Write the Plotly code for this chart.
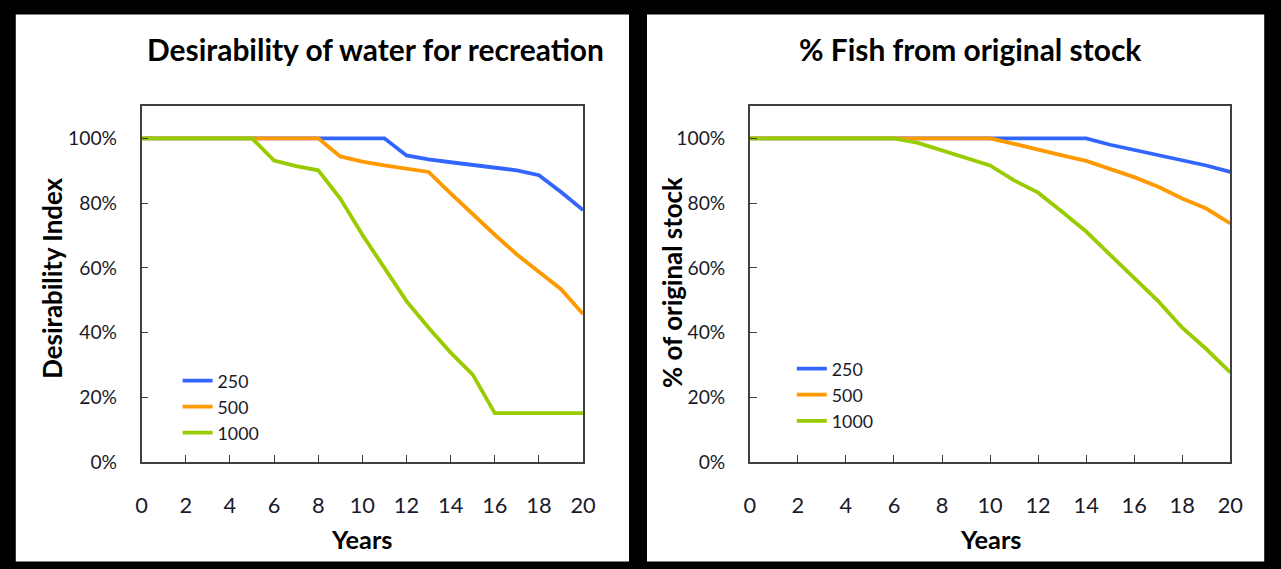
import plotly.graph_objects as go

years = list(range(0, 21))

# Desirability of water for recreation (%)
des_250 = [100, 100, 100, 100, 100, 100, 100, 100, 100, 100, 100, 100, 94.7, 93.5, 92.6, 91.8, 91.1, 90.1, 88.6, 83.4, 77.8]
des_500 = [100, 100, 100, 100, 100, 100, 100, 100, 100, 94.4, 92.8, 91.6, 90.6, 89.6, 83.0, 76.4, 70.2, 64.1, 58.9, 53.4, 45.7]
des_1000 = [100, 100, 100, 100, 100, 100, 93.1, 91.4, 90.1, 81.4, 70.2, 59.9, 49.7, 41.5, 33.8, 27.0, 15.1, 15.1, 15.1, 15.1, 15.1]

# % Fish from original stock
fish_250 = [100, 100, 100, 100, 100, 100, 100, 100, 100, 100, 100, 100, 100, 100, 100, 98.0, 96.4, 94.9, 93.4, 91.6, 89.6]
fish_500 = [100, 100, 100, 100, 100, 100, 100, 100, 100, 100, 100, 98.3, 96.4, 94.7, 93.0, 90.6, 88.0, 85.0, 81.4, 78.3, 73.7]
fish_1000 = [100, 100, 100, 100, 100, 100, 100, 98.6, 96.2, 93.9, 91.6, 87.0, 83.2, 77.3, 71.2, 64.0, 56.9, 49.7, 41.5, 34.9, 27.7]

series_names = ["250", "500", "1000"]
colors = ["#3366FF", "#FF9900", "#99CC00"]

FONT = "Lato"
TXT = "#1a1a2a"

fig = go.Figure()

for name, ys, c in zip(series_names, [des_250, des_500, des_1000], colors):
    fig.add_trace(go.Scatter(x=years, y=ys, mode="lines", name=name,
                             line=dict(color=c, width=3.8), xaxis="x", yaxis="y",
                             legend="legend"))
for name, ys, c in zip(series_names, [fish_250, fish_500, fish_1000], colors):
    fig.add_trace(go.Scatter(x=years, y=ys, mode="lines", name=name,
                             line=dict(color=c, width=3.8), xaxis="x2", yaxis="y2",
                             legend="legend2"))

W, H = 1281, 569
# target picture pixel -> paper fraction (with small calibration of the capture)
SX, OX = 0.9864, 5.2
SY, OY = 0.986, -2.5
def px(x):
    return ((x - OX) / SX) / W
def py(y):
    return (H - (y - OY) / SY) / H
K = 1 / 0.986

axis_common = dict(showgrid=False, zeroline=False, showline=True, linecolor="#404040",
                   linewidth=1.5, mirror=True, ticks="inside", ticklen=7,
                   tickcolor="#404040", tickwidth=1.2, fixedrange=True)

xcommon = dict(axis_common, range=[0, 20], tickmode="array", tickvals=list(range(0, 21, 2)),
               tickfont=dict(family=FONT, size=21.5 * K, color=TXT), ticklabelstandoff=23)
ycommon = dict(axis_common, range=[0, 110], tickmode="array", tickvals=[0, 20, 40, 60, 80, 100],
               ticktext=["0%", "20%", "40%", "60%", "80%", "100%"],
               tickfont=dict(family=FONT, size=19 * K, color=TXT), ticklabelstandoff=19)

legend_common = dict(xanchor="left", yanchor="top", bgcolor="rgba(0,0,0,0)",
                     font=dict(family=FONT, size=17.5 * K, color=TXT), tracegroupgap=0,
                     itemwidth=30)

fig.update_layout(
    width=W, height=H,
    margin=dict(l=0, r=0, t=0, b=0),
    paper_bgcolor="black",
    plot_bgcolor="white",
    xaxis=dict(xcommon, domain=[px(141), px(583)], anchor="y"),
    yaxis=dict(ycommon, domain=[py(462), py(104)], anchor="x"),
    xaxis2=dict(xcommon, domain=[px(750), px(1231)], anchor="y2"),
    yaxis2=dict(ycommon, domain=[py(462), py(104)], anchor="x2"),
    legend=dict(legend_common, x=px(177), y=py(362)),
    legend2=dict(legend_common, x=px(792), y=py(350)),
    shapes=[
        dict(type="rect", xref="paper", yref="paper", x0=px(15), x1=px(629), y0=py(562), y1=py(12),
             fillcolor="white", line=dict(width=0), layer="below"),
        dict(type="rect", xref="paper", yref="paper", x0=px(647), x1=px(1265), y0=py(562), y1=py(12),
             fillcolor="white", line=dict(width=0), layer="below"),
    ],
    annotations=[
        dict(text="<b>Desirability of water for recreation</b>", xref="paper", yref="paper",
             x=px(375), y=py(47), xanchor="center", yanchor="middle", showarrow=False,
             font=dict(family=FONT, size=29.5 * K, color="black")),
        dict(text="<b>% Fish from original stock</b>", xref="paper", yref="paper",
             x=px(970), y=py(47), xanchor="center", yanchor="middle", showarrow=False,
             font=dict(family=FONT, size=29.5 * K, color="black")),
        dict(text="<b>Desirability Index</b>", xref="paper", yref="paper",
             x=px(51), y=py(277), xanchor="center", yanchor="middle", showarrow=False,
             textangle=-90, font=dict(family=FONT, size=25.5 * K, color="black")),
        dict(text="<b>% of original stock</b>", xref="paper", yref="paper",
             x=px(672), y=py(281), xanchor="center", yanchor="middle", showarrow=False,
             textangle=-90, font=dict(family=FONT, size=25.5 * K, color="black")),
        dict(text="<b>Years</b>", xref="paper", yref="paper",
             x=px(362), y=py(539), xanchor="center", yanchor="middle", showarrow=False,
             font=dict(family=FONT, size=25 * K, color="black")),
        dict(text="<b>Years</b>", xref="paper", yref="paper",
             x=px(991), y=py(539), xanchor="center", yanchor="middle", showarrow=False,
             font=dict(family=FONT, size=25 * K, color="black")),
    ],
)

post = (
    "var de=document.documentElement, bd=document.body;"
    "de.style.margin='0'; de.style.padding='0'; de.style.overflow='hidden';"
    "bd.style.margin='0'; bd.style.padding='0'; bd.style.overflow='hidden';"
)

fig.write_html("out.html", config={"displayModeBar": False}, post_script=post)
